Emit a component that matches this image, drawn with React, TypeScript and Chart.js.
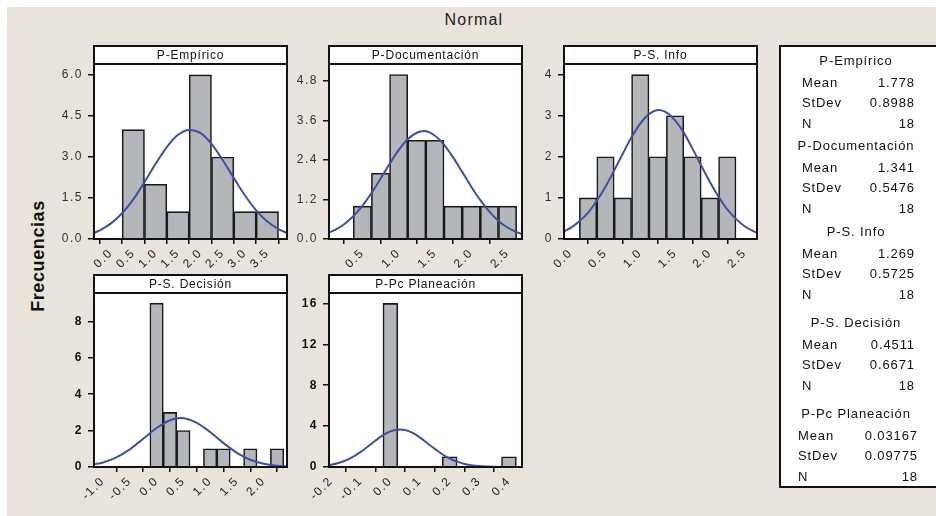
import React, { useEffect, useRef } from "react";
import { Chart, registerables } from "chart.js";

Chart.register(...registerables);

// ---------- DATA ----------
const empiricoBins = [0.5, 1.0, 1.5, 2.0, 2.5, 3.0, 3.5];
const empiricoCounts = [4, 2, 1, 6, 3, 1, 1];
const empiricoCurveX = [-0.38, -0.2, 0, 0.25, 0.5, 0.75, 1.0, 1.25, 1.5, 1.75, 2.0, 2.25, 2.5, 2.75, 3.0, 3.25, 3.5, 3.75, 3.94];
const empiricoCurveY = [0.22, 0.36, 0.57, 0.94, 1.45, 2.08, 2.75, 3.36, 3.81, 3.99, 3.88, 3.48, 2.89, 2.23, 1.59, 1.05, 0.64, 0.36, 0.22];
const empiricoXTicks = [0, 0.5, 1.0, 1.5, 2.0, 2.5, 3.0, 3.5];
const empiricoYTicks = [0, 1.5, 3.0, 4.5, 6.0];

const docBins = [0.5, 0.75, 1.0, 1.25, 1.5, 1.75, 2.0, 2.25, 2.5];
const docCounts = [1, 2, 5, 3, 3, 1, 1, 1, 1];
const docCurveX = [0.04, 0.125, 0.25, 0.375, 0.5, 0.625, 0.75, 0.875, 1.0, 1.125, 1.25, 1.35, 1.5, 1.625, 1.75, 1.875, 2.0, 2.125, 2.25, 2.375, 2.5, 2.625, 2.7];
const docCurveY = [0.2, 0.28, 0.45, 0.69, 1.01, 1.39, 1.83, 2.28, 2.7, 3.03, 3.23, 3.28, 3.14, 2.87, 2.48, 2.04, 1.59, 1.18, 0.83, 0.55, 0.35, 0.21, 0.15];
const docXTicks = [0.5, 1.0, 1.5, 2.0, 2.5];
const docYTicks = [0, 1.2, 2.4, 3.6, 4.8];

const infoBins = [0.25, 0.5, 0.75, 1.0, 1.25, 1.5, 1.75, 2.0, 2.25];
const infoCounts = [1, 2, 1, 4, 2, 3, 2, 1, 2];
const infoCurveX = [-0.1, 0, 0.125, 0.25, 0.375, 0.5, 0.625, 0.75, 0.875, 1.0, 1.125, 1.27, 1.375, 1.5, 1.625, 1.75, 1.875, 2.0, 2.125, 2.25, 2.375, 2.5, 2.625, 2.68];
const infoCurveY = [0.18, 0.27, 0.43, 0.64, 0.93, 1.27, 1.67, 2.08, 2.48, 2.81, 3.04, 3.14, 3.08, 2.89, 2.59, 2.2, 1.79, 1.39, 1.03, 0.72, 0.49, 0.31, 0.19, 0.15];
const infoXTicks = [0, 0.5, 1.0, 1.5, 2.0, 2.5];
const infoYTicks = [0, 1, 2, 3, 4];

const decBins = [0, 0.25, 0.5, 0.75, 1.0, 1.25, 1.5, 1.75, 2.0, 2.25];
const decCounts = [9, 3, 2, 0, 1, 1, 0, 1, 0, 1];
const decCurveX = [-1.17, -1.0, -0.75, -0.5, -0.25, 0, 0.25, 0.45, 0.75, 1.0, 1.25, 1.5, 1.75, 2.0, 2.25, 2.44];
const decCurveY = [0.14, 0.25, 0.53, 0.97, 1.55, 2.14, 2.57, 2.69, 2.43, 1.92, 1.31, 0.78, 0.4, 0.18, 0.07, 0.03];
const decXTicks = [-1.0, -0.5, 0, 0.5, 1.0, 1.5, 2.0];
const decYTicks = [0, 2, 4, 6, 8];

const planBins = [0, 0.05, 0.1, 0.15, 0.2, 0.25, 0.3, 0.35, 0.4];
const planCounts = [16, 0, 0, 0, 1, 0, 0, 0, 1];
const planCurveX = [-0.207, -0.2, -0.175, -0.15, -0.125, -0.1, -0.075, -0.05, -0.025, 0, 0.032, 0.05, 0.075, 0.1, 0.125, 0.15, 0.175, 0.2, 0.225, 0.25, 0.3, 0.35, 0.4, 0.444];
const planCurveY = [0.19, 0.22, 0.39, 0.65, 1.02, 1.48, 2.03, 2.59, 3.11, 3.49, 3.67, 3.61, 3.33, 2.88, 2.33, 1.77, 1.25, 0.83, 0.52, 0.3, 0.09, 0.02, 0.0, 0.0];
const planXTicks = [-0.2, -0.1, 0, 0.1, 0.2, 0.3, 0.4];
const planYTicks = [0, 4, 8, 12, 16];

const legendNames = ["P-Empírico", "P-Documentación", "P-S. Info", "P-S. Decisión", "P-Pc Planeación"];
const legendMeans = ["1.778", "1.341", "1.269", "0.4511", "0.03167"];
const legendStDevs = ["0.8988", "0.5476", "0.5725", "0.6671", "0.09775"];
const legendNs = ["18", "18", "18", "18", "18"];

// ---------- STYLE / LAYOUT ----------
const FONT = "'Liberation Sans', Arial, Helvetica, sans-serif";
const BG = "#e8e4db";
const BAR_FILL = "#b4b7ba";
const BAR_EDGE = "#1a1a1a";
const CURVE = "#3d50a6";

type PanelDef = {
  title: string;
  bins: number[];
  counts: number[];
  curveX: number[];
  curveY: number[];
  xTicks: number[];
  yTicks: number[];
  xMin: number;
  xMax: number;
  yMax: number;
  xDec: number;
  yDec: number;
  yBold: boolean;
  frameL: number;
  frameR: number;
  stripTop: number;
  plotTop: number;
  plotBottom: number;
};

const panels: PanelDef[] = [
  { title: "P-Empírico", bins: empiricoBins, counts: empiricoCounts, curveX: empiricoCurveX, curveY: empiricoCurveY, xTicks: empiricoXTicks, yTicks: empiricoYTicks, xMin: -0.38, xMax: 3.94, yMax: 6.4, xDec: 1, yDec: 1, yBold: false, frameL: 94, frameR: 287, stripTop: 46, plotTop: 64, plotBottom: 239 },
  { title: "P-Documentación", bins: docBins, counts: docCounts, curveX: docCurveX, curveY: docCurveY, xTicks: docXTicks, yTicks: docYTicks, xMin: 0.041, xMax: 2.699, yMax: 5.32, xDec: 1, yDec: 1, yBold: false, frameL: 329, frameR: 522, stripTop: 46, plotTop: 64, plotBottom: 239 },
  { title: "P-S. Info", bins: infoBins, counts: infoCounts, curveX: infoCurveX, curveY: infoCurveY, xTicks: infoXTicks, yTicks: infoYTicks, xMin: -0.096, xMax: 2.677, yMax: 4.26, xDec: 1, yDec: 0, yBold: false, frameL: 564, frameR: 757, stripTop: 46, plotTop: 64, plotBottom: 239 },
  { title: "P-S. Decisión", bins: decBins, counts: decCounts, curveX: decCurveX, curveY: decCurveY, xTicks: decXTicks, yTicks: decYTicks, xMin: -1.168, xMax: 2.435, yMax: 9.56, xDec: 1, yDec: 0, yBold: true, frameL: 94, frameR: 287, stripTop: 275, plotTop: 293, plotBottom: 467 },
  { title: "P-Pc Planeación", bins: planBins, counts: planCounts, curveX: planCurveX, curveY: planCurveY, xTicks: planXTicks, yTicks: planYTicks, xMin: -0.207, xMax: 0.444, yMax: 17.02, xDec: 1, yDec: 0, yBold: true, frameL: 329, frameR: 522, stripTop: 275, plotTop: 293, plotBottom: 467 },
];

const YW = 60;
const PR = 16;
const XH = 45;

const framePlugin = {
  id: "panelFrame",
  beforeLayout(chart: any) {
    chart.ctx.letterSpacing = "1.5px";
  },
  beforeDraw(chart: any, _args: any, opts: any) {
    const { ctx, chartArea: a } = chart;
    ctx.save();
    ctx.fillStyle = "#ffffff";
    ctx.fillRect(a.left, a.top, a.right - a.left, a.bottom - a.top);
    ctx.restore();
    ctx.letterSpacing = "1.5px";
  },
  afterDraw(chart: any, _args: any, opts: any) {
    const { ctx, chartArea: a } = chart;
    const stripH = opts.stripH;
    ctx.save();
    ctx.strokeStyle = "#111";
    ctx.lineWidth = 2;
    ctx.strokeRect(a.left, a.top, a.right - a.left, a.bottom - a.top);
    ctx.fillStyle = "#ffffff";
    ctx.fillRect(a.left, a.top - stripH, a.right - a.left, stripH);
    ctx.strokeRect(a.left, a.top - stripH, a.right - a.left, stripH);
    ctx.fillStyle = "#111";
    ctx.font = `12px ${FONT}`;
    ctx.letterSpacing = "0.8px";
    ctx.textAlign = "center";
    ctx.textBaseline = "middle";
    ctx.fillText(opts.title, (a.left + a.right) / 2, a.top - stripH / 2 + 1);
    ctx.restore();
  },
};

function Panel({ p }: { p: PanelDef }) {
  const ref = useRef<HTMLCanvasElement | null>(null);
  const cLeft = p.frameL - YW;
  const cTop = p.stripTop - 3;
  const cW = p.frameR - p.frameL + YW + PR;
  const cH = p.plotBottom - cTop + XH;

  useEffect(() => {
    if (!ref.current) return;
    const chart = new Chart(ref.current, {
      type: "bar",
      data: {
        datasets: [
          {
            type: "line",
            data: p.curveX.map((x, i) => ({ x, y: p.curveY[i] })),
            borderColor: CURVE,
            borderWidth: 2,
            pointRadius: 0,
            fill: false,
            cubicInterpolationMode: "monotone",
            order: 0,
          } as any,
          {
            type: "bar",
            data: p.bins.map((x, i) => ({ x, y: p.counts[i] })),
            backgroundColor: BAR_FILL,
            borderColor: BAR_EDGE,
            borderWidth: (c: any) => (c.raw && c.raw.y > 0 ? 1.6 : 0),
            barPercentage: 1,
            categoryPercentage: 1,
            order: 1,
          } as any,
        ],
      },
      options: {
        responsive: false,
        animation: false,
        events: [],
        layout: { padding: { top: p.plotTop - cTop, left: 0, right: PR, bottom: 0 } },
        plugins: {
          legend: { display: false },
          tooltip: { enabled: false },
          title: { display: false },
          panelFrame: { title: p.title, stripH: p.plotTop - p.stripTop },
        } as any,
        scales: {
          x: {
            type: "linear",
            min: p.xMin,
            max: p.xMax,
            offset: false,
            bounds: "data",
            afterBuildTicks: (s: any) => {
              s.ticks = p.xTicks.map((v) => ({ value: v }));
            },
            afterFit: (s: any) => {
              s.height = XH;
            },
            ticks: {
              autoSkip: false,
              minRotation: 45,
              maxRotation: 45,
              padding: 2,
              color: "#222",
              font: { family: FONT, size: 12 },
              callback: (v: any) => Number(v).toFixed(p.xDec),
            },
            grid: { display: true, drawOnChartArea: false, drawTicks: true, tickLength: 5, color: "#111", lineWidth: 1.5 },
            border: { display: false },
          },
          y: {
            type: "linear",
            min: 0,
            max: p.yMax,
            bounds: "data",
            afterBuildTicks: (s: any) => {
              s.ticks = p.yTicks.map((v) => ({ value: v }));
            },
            afterFit: (s: any) => {
              s.width = YW;
            },
            ticks: {
              padding: 5,
              color: p.yBold ? "#111" : "#333",
              font: { family: FONT, size: 12, weight: p.yBold ? "bold" : "normal" },
              callback: (v: any) => Number(v).toFixed(p.yDec),
            },
            grid: { display: true, drawOnChartArea: false, drawTicks: true, tickLength: 6, color: "#111", lineWidth: 1.5 },
            border: { display: false },
          },
        } as any,
      },
      plugins: [framePlugin as any],
    });
    return () => chart.destroy();
  }, []);

  return (
    <canvas
      ref={ref}
      width={cW}
      height={cH}
      style={{ position: "absolute", left: cLeft, top: cTop, width: cW, height: cH }}
    />
  );
}

const groupHeaderY = [61, 146, 232, 323, 414];
const rowOffsets = [21.5, 42, 62.5];
const labelLeft = [802, 802, 802, 802, 798];
const valueRight = [914, 914, 914, 914, 917];

function Legend() {
  const items: any[] = [];
  const textStyle: any = {
    position: "absolute",
    fontFamily: FONT,
    fontSize: 13,
    letterSpacing: "0.9px",
    lineHeight: "16px",
    color: "#111",
    whiteSpace: "nowrap",
  };
  legendNames.forEach((name, g) => {
    items.push(
      <div key={`h${g}`} style={{ ...textStyle, left: 856 - 100, width: 200, textAlign: "center", top: groupHeaderY[g] - 8 }}>
        {name}
      </div>
    );
    const rows = [
      ["Mean", legendMeans[g]],
      ["StDev", legendStDevs[g]],
      ["N", legendNs[g]],
    ];
    rows.forEach((r, k) => {
      const y = groupHeaderY[g] + rowOffsets[k] - 8;
      items.push(
        <div key={`l${g}${k}`} style={{ ...textStyle, left: labelLeft[g], top: y }}>
          {r[0]}
        </div>
      );
      items.push(
        <div key={`v${g}${k}`} style={{ ...textStyle, right: 936 - valueRight[g] - 1, top: y, textAlign: "right" }}>
          {r[1]}
        </div>
      );
    });
  });
  return (
    <>
      <div
        style={{
          position: "absolute",
          left: 779,
          top: 45,
          width: 180,
          height: 443,
          background: "#ffffff",
          border: "2px solid #111",
          boxSizing: "border-box",
        }}
      />
      {items}
    </>
  );
}

export default function App() {
  return (
    <div
      style={{
        position: "absolute",
        left: 0,
        top: 0,
        width: 936,
        height: 516,
        overflow: "hidden",
        background: "#ffffff",
      }}
    >
      <div style={{ position: "absolute", left: 7, top: 7, width: 929, height: 509, background: BG }} />
      <div
        style={{
          position: "absolute",
          left: 374,
          width: 200,
          top: 10,
          textAlign: "center",
          fontFamily: FONT,
          fontSize: 16,
          letterSpacing: "1.2px",
          color: "#222",
          lineHeight: "20px",
        }}
      >
        Normal
      </div>
      <div
        style={{
          position: "absolute",
          left: 38 - 80,
          top: 256 - 12,
          width: 160,
          height: 24,
          lineHeight: "24px",
          textAlign: "center",
          transform: "rotate(-90deg)",
          fontFamily: FONT,
          fontWeight: "bold",
          fontSize: 18,
          letterSpacing: "0.6px",
          color: "#111",
        }}
      >
        Frecuencias
      </div>
      {panels.map((p, i) => (
        <Panel key={i} p={p} />
      ))}
      <Legend />
    </div>
  );
}
